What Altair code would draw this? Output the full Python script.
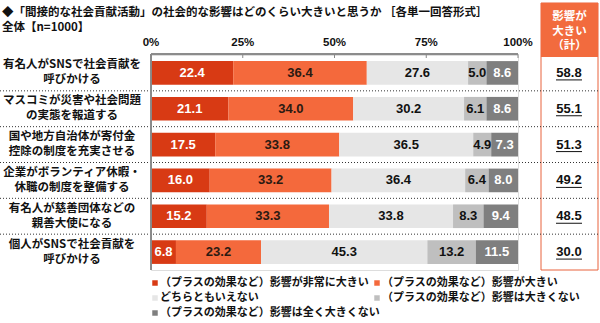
import altair as alt
import pandas as pd

# ---- data ----
categories = [
    "有名人がSNSで社会貢献を\n呼びかける",
    "マスコミが災害や社会問題\nの実態を報道する",
    "国や地方自治体が寄付金\n控除の制度を充実させる",
    "企業がボランティア休暇・\n休職の制度を整備する",
    "有名人が慈善団体などの\n親善大使になる",
    "個人がSNSで社会貢献を\n呼びかける",
]
segments = [
    "（プラスの効果など）影響が非常に大きい",
    "（プラスの効果など）影響が大きい",
    "どちらともいえない",
    "（プラスの効果など）影響は大きくない",
    "（プラスの効果など）影響は全く大きくない",
]
very_large = [22.4, 21.1, 17.5, 16.0, 15.2, 6.8]
large = [36.4, 34.0, 33.8, 33.2, 33.3, 23.2]
neither = [27.6, 30.2, 36.5, 36.4, 33.8, 45.3]
not_large = [5.0, 6.1, 4.9, 6.4, 8.3, 13.2]
not_at_all = [8.6, 8.6, 7.3, 8.0, 9.4, 11.5]
totals = [58.8, 55.1, 51.3, 49.2, 48.5, 30.0]
ticks = [0, 25, 50, 75, 100]
header_lines = ["影響が", "大きい", "（計）"]

seg_colors = ["#D83A14", "#F4693C", "#E6E6E6", "#BFBFBF", "#7F7F7F"]
text_colors = ["#FFFFFF", "#2B1A12", "#111111", "#111111", "#FFFFFF"]
BOX = "#E8623C"
JP = "Noto Sans CJK JP"
NUM = "Liberation Sans"

series = [very_large, large, neither, not_large, not_at_all]
rows = []
for i, cat in enumerate(categories):
    for j, seg in enumerate(segments):
        rows.append({"idx": i, "cat": cat, "seg": seg, "order": j, "value": series[j][i]})
df = pd.DataFrame(rows)
cat_df = pd.DataFrame({"idx": list(range(len(categories))), "cat": categories, "total": totals})
sep_df = pd.DataFrame({"sep": list(range(1, len(categories)))})
tick_df = pd.DataFrame({"t": ticks})

yscale = alt.Scale(domain=[0, len(categories)], reverse=True, nice=False, zero=False)
xscale = alt.Scale(domain=[0, 100], nice=False)

base = alt.Chart(df).transform_stack(
    stack="value", groupby=["idx"], as_=["x0", "x1"], sort=[alt.SortField("order")]
).transform_calculate(
    ylo="datum.idx + 0.5 - 0.33", yhi="datum.idx + 0.5 + 0.33",
    ymid="datum.idx + 0.5", xm="(datum.x0 + datum.x1) / 2"
)

bars = base.mark_rect().encode(
    x=alt.X("x0:Q", scale=xscale, axis=None),
    x2="x1:Q",
    y=alt.Y("ylo:Q", scale=yscale, axis=None),
    y2="yhi:Q",
    color=alt.Color("seg:N", scale=alt.Scale(domain=segments, range=seg_colors), legend=None),
)

bar_text = base.mark_text(font=NUM, fontSize=13, fontWeight="bold").encode(
    x=alt.X("xm:Q", scale=xscale, axis=None),
    y=alt.Y("ymid:Q", scale=yscale, axis=None),
    text=alt.Text("value:Q", format=".1f"),
    color=alt.Color("seg:N", scale=alt.Scale(domain=segments, range=text_colors), legend=None),
)

cbase = alt.Chart(cat_df).transform_calculate(ymid="datum.idx + 0.5")

cat_text = cbase.mark_text(
    font=JP, fontSize=11.5, fontWeight="bold", align="center", baseline="middle",
    lineBreak="\n", lineHeight=15, color="#111111", dy=-7.5
).encode(x=alt.value(-79), y=alt.Y("ymid:Q", scale=yscale, axis=None), text="cat:N")

total_text = cbase.mark_text(
    font=NUM, fontSize=13, fontWeight="bold", align="center", baseline="middle", color="#111111"
).encode(x=alt.value(418), y=alt.Y("ymid:Q", scale=yscale, axis=None),
         text=alt.Text("total:Q", format=".1f"))

total_ul = cbase.mark_rule(color="#111111", strokeWidth=1, yOffset=7).encode(
    x=alt.value(405), x2=alt.value(431), y=alt.Y("ymid:Q", scale=yscale, axis=None)
)

seps = alt.Chart(sep_df).mark_rule(color="#333333", strokeDash=[1, 2], strokeWidth=1).encode(
    x=alt.value(-151), x2=alt.value(449), y=alt.Y("sep:Q", scale=yscale, axis=None)
)

# axis
tk = alt.Chart(tick_df)
axis_h = tk.mark_rule(color="#888888").encode(x=alt.value(0), x2=alt.value(367), y=alt.value(-1))
axis_v = tk.mark_rule(color="#888888").encode(x=alt.value(0), y=alt.value(-1), y2=alt.value(215))
tick_marks = tk.mark_rule(color="#888888").encode(
    x=alt.X("t:Q", scale=xscale, axis=None), y=alt.value(-1), y2=alt.value(3)
)
tick_labels = tk.transform_calculate(lab="datum.t + '%'").mark_text(
    font=NUM, fontSize=11.5, fontWeight="bold", baseline="middle", color="#111111"
).encode(x=alt.X("t:Q", scale=xscale, axis=None), y=alt.value(-12), text="lab:N")

# titles
one = pd.DataFrame({"a": [0]})
title1 = alt.Chart(one).mark_text(
    font=JP, fontSize=11.5, fontWeight="bold", align="left", baseline="middle", color="#111111"
).encode(x=alt.value(-149), y=alt.value(-42),
         text=alt.value("◆「間接的な社会貢献活動」の社会的な影響はどのくらい大きいと思うか ［各単一回答形式］"))
title2 = alt.Chart(one).mark_text(
    font=JP, fontSize=11.5, fontWeight="bold", align="left", baseline="middle", color="#111111"
).encode(x=alt.value(-149), y=alt.value(-27), text=alt.value("全体【n=1000】"))

# right box
box = alt.Chart(one).mark_rect(fill="white", stroke=BOX, strokeWidth=1).encode(
    x=alt.value(390), x2=alt.value(447), y=alt.value(-52), y2=alt.value(215)
)
header = alt.Chart(one).mark_rect(fill="#F26B3E").encode(
    x=alt.value(390), x2=alt.value(447), y=alt.value(-52), y2=alt.value(2)
)
header_layers = []
for k, line in enumerate(header_lines):
    header_layers.append(
        alt.Chart(pd.DataFrame({"h": [line]})).mark_text(
            font=JP, fontSize=11.5, fontWeight="bold", align="center", baseline="middle",
            color="white"
        ).encode(x=alt.value(418.5), y=alt.value(-38 + k * 14.5), text="h:N")
    )

# legend
legend_layers = []
for j, seg in enumerate(segments):
    col, row = j % 2, j // 2
    lx = 4 + col * 222
    ly = 228 + row * 15
    ldf = pd.DataFrame({"seg": [seg]})
    legend_layers.append(
        alt.Chart(ldf).mark_square(size=30, color=seg_colors[j], opacity=1).encode(
            x=alt.value(lx), y=alt.value(ly))
    )
    legend_layers.append(
        alt.Chart(ldf).mark_text(font=JP, fontSize=11, fontWeight="bold", align="left",
                                 baseline="middle", color="#111111").encode(
            x=alt.value(lx + 5), y=alt.value(ly), text="seg:N")
    )

chart = alt.layer(
    box, header, *header_layers, seps, bars, bar_text, cat_text, total_text, total_ul,
    axis_h, axis_v, tick_marks, tick_labels, title1, title2, *legend_layers
).resolve_scale(color="independent").properties(
    width=367, height=215,
    autosize=alt.AutoSizeParams(type="none"),
    padding={"left": 151, "top": 55, "right": 82, "bottom": 53},
).configure_view(stroke=None).configure(background="white")

chart.save("out.html", embed_options={"renderer": "svg", "actions": False})
